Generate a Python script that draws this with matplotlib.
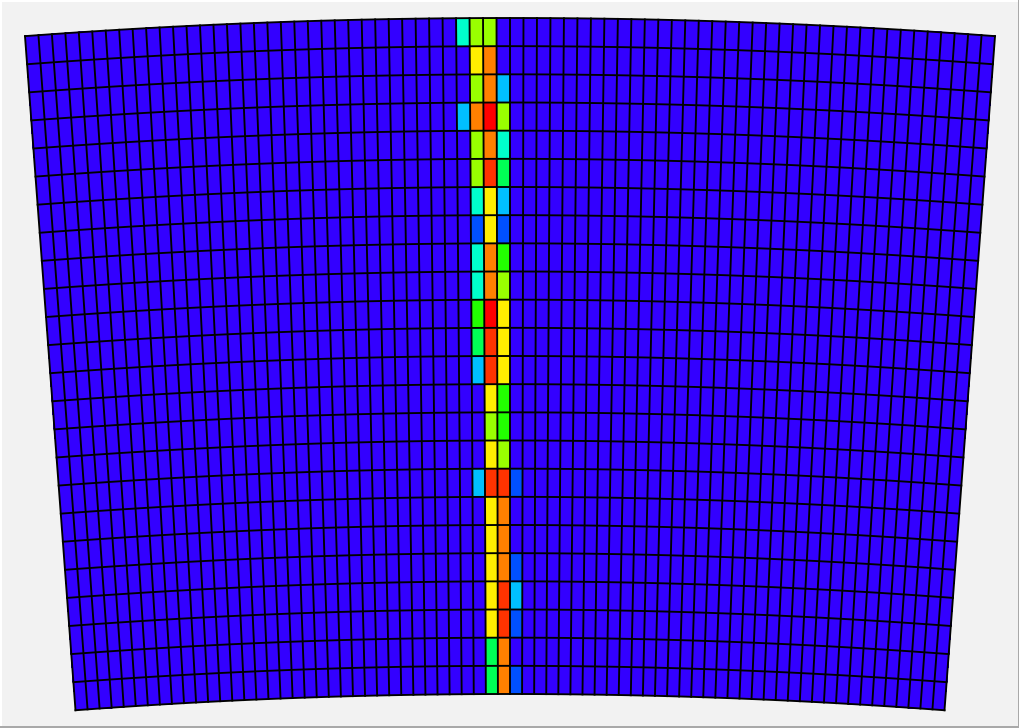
#!/usr/bin/env python3

"""
Sector mesh of a polar grid, coloured by discrete level.
"""

import numpy as np
import matplotlib
matplotlib.use('Agg')
import matplotlib.pyplot as plt
from matplotlib.colors import ListedColormap, BoundaryNorm
from matplotlib.patches import Rectangle

#constants
N_COLS = 72
N_ROWS = 24
R_OUT = 6491
R_IN = 5815
HALF_ANGLE = 0.07479
CENTER_X = 510
CENTER_Y = 6509

#colour of each level, low to high
LEVEL_COLORS = ['#3300ff', '#0050ff', '#00bfff', '#00ffcc', '#00ff55', '#22ff00',
                '#99ff00', '#ffee00', '#ff8000', '#ff3300', '#ff0000']

#non zero columns, top row first; they sit just around the middle of the sector
col_l4 = [3, 0, 0, 2, 0, 0, 0, 0, 0, 0, 0, 0, 0, 0, 0, 0, 0, 0, 0, 0, 0, 0, 0, 0]
col_l3 = [6, 7, 6, 8, 6, 6, 3, 1, 3, 3, 5, 4, 2, 0, 0, 0, 2, 0, 0, 0, 0, 0, 0, 0]
col_l2 = [6, 8, 8, 10, 8, 9, 7, 7, 8, 8, 10, 9, 9, 7, 6, 7, 9, 7, 7, 7, 7, 7, 4, 4]
col_l1 = [0, 0, 2, 6, 3, 4, 2, 1, 5, 6, 7, 7, 7, 5, 5, 6, 9, 8, 8, 8, 9, 9, 8, 8]
col_r1 = [0, 0, 0, 0, 0, 0, 0, 0, 0, 0, 0, 0, 0, 0, 0, 0, 1, 0, 0, 1, 2, 1, 0, 1]


def main():
    levels = np.zeros((N_ROWS, N_COLS))
    levels[:, 32] = col_l4
    levels[:, 33] = col_l3
    levels[:, 34] = col_l2
    levels[:, 35] = col_l1
    levels[:, 36] = col_r1

    theta = np.linspace(-HALF_ANGLE, HALF_ANGLE, N_COLS + 1)
    radius = np.linspace(R_OUT, R_IN, N_ROWS + 1)
    tt, rr = np.meshgrid(theta, radius)
    x = CENTER_X + rr * np.sin(tt)
    y = CENTER_Y - rr * np.cos(tt)

    fig = plt.figure(figsize=(10.2, 7.28), dpi=100, facecolor='#f2f2f2')
    ax = fig.add_axes([0, 0, 1, 1])
    ax.set_xlim(0, 1020)
    ax.set_ylim(728, 0)
    ax.axis('off')

    #window border: light on top and left, grey on right and bottom
    ax.add_patch(Rectangle((0, 0), 1020, 2, color='white', lw=0))
    ax.add_patch(Rectangle((0, 0), 2, 728, color='white', lw=0))
    ax.add_patch(Rectangle((0, 726), 1020, 2, color='#a9a9a9', lw=0))
    ax.add_patch(Rectangle((1018, 0), 2, 728, color='#a9a9a9', lw=0))

    cmap = ListedColormap(LEVEL_COLORS)
    norm = BoundaryNorm(np.arange(-0.5, 11), cmap.N)
    ax.pcolormesh(x, y, levels, cmap=cmap, norm=norm, edgecolors='none',
                  antialiased=False)

    #grid lines drawn on their own so they stay an even width
    line_style = dict(color='black', lw=1.35, antialiased=True, snap=False,
                      solid_capstyle='projecting', solid_joinstyle='miter')
    for i in range(N_ROWS + 1):
        ax.plot(x[i, :], y[i, :], **line_style)
    for j in range(N_COLS + 1):
        ax.plot(x[:, j], y[:, j], **line_style)

    ax.set_xlim(0, 1020)
    ax.set_ylim(728, 0)

    fig.savefig('out.png', dpi=100, facecolor=fig.get_facecolor())


if __name__ == '__main__':
    main()
